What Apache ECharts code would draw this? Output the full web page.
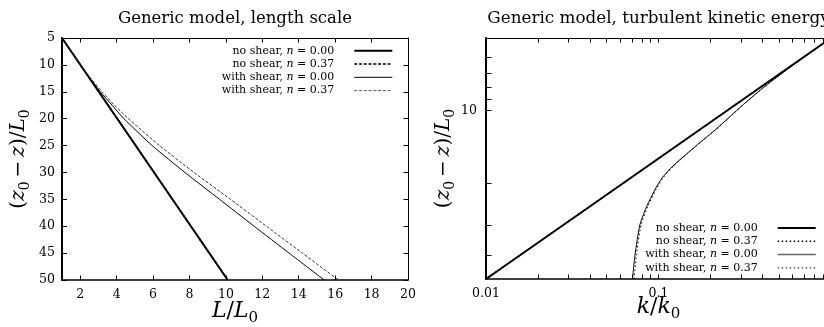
<!DOCTYPE html>
<html><head><meta charset="utf-8">
<script src="https://cdn.jsdelivr.net/npm/echarts@6/dist/echarts.min.js"></script>
<style>html,body{margin:0;padding:0;background:#fff}#c{width:824px;height:327px}</style>
</head><body><div id="c"></div>
<script>
// ---------- data ----------
const legendNames = ['no shear, n = 0.00', 'no shear, n = 0.37', 'with shear, n = 0.00', 'with shear, n = 0.37'];
const titles = ['Generic model, length scale', 'Generic model, turbulent kinetic energy'];

// Left panel: L/L0 against (z0 - z)/L0
const lenNoShear0L = [1.0, 10.1];
const lenNoShear0Z = [5, 50];
const lenNoShear37L = [1.0, 10.1];
const lenNoShear37Z = [5, 50];
const lenShearZ = [5, 10, 12.5, 15, 17.5, 20, 25, 30, 35, 40, 45, 50];
const lenShear0L = [1.0, 2.0, 2.53, 3.1, 3.75, 4.4, 5.95, 7.75, 9.65, 11.55, 13.47, 15.4];
const lenShear37L = [1.0, 2.02, 2.58, 3.2, 3.88, 4.65, 6.35, 8.25, 10.25, 12.22, 14.2, 16.18];
const lenXLabels = [2, 4, 6, 8, 10, 12, 14, 16, 18, 20];
const lenXTicks = [2, 4, 6, 8, 10, 12, 14, 16, 18];

// Right panel: k/k0 against (z0 - z)/L0
const tkeNoShear0K = [0.01, 1.0];
const tkeNoShear0Z = [50, 5];
const tkeNoShear37K = [0.01, 1.0];
const tkeNoShear37Z = [50, 5];
const tkeShearZ = [50, 39.7, 29.7, 24.8, 21.3, 19.05, 16.97, 15.08, 13.57, 12.05, 10.78, 9.31, 7.93, 6.62, 5.0];
const tkeShear0K = [0.0707, 0.0731, 0.0781, 0.0858, 0.0954, 0.1048, 0.1214, 0.1463, 0.174, 0.2127, 0.2529, 0.3172, 0.4145, 0.5783, 1.0];
const tkeShear37K = [0.0722, 0.0745, 0.0793, 0.0870, 0.0966, 0.1060, 0.1225, 0.1472, 0.1748, 0.2133, 0.2533, 0.3174, 0.4146, 0.5783, 1.0];
const tkeXLabels = [0.01, 0.1];
const tkeXTicks = [0.02, 0.03, 0.04, 0.05, 0.06, 0.07, 0.08, 0.09, 0.1, 0.2, 0.3, 0.4, 0.5, 0.6, 0.7, 0.8, 0.9];
const tkeYLabels = [10];
const tkeYTicks = [6, 7, 8, 9, 10, 20, 30, 40];

// ---------- helpers ----------
const SERIF = 'DejaVu Serif';
const pairs = (xs, ys) => xs.map((x, i) => [x, ys[i]]);
const mathRich = (size) => ({
  t: {fontFamily: SERIF, fontSize: size, color: '#000', lineHeight: Math.round(size * 1.3)},
  i: {fontFamily: SERIF, fontStyle: 'italic', fontSize: size, color: '#000', lineHeight: Math.round(size * 1.3)},
  s: {fontFamily: SERIF, fontSize: Math.round(size * 0.68), color: '#000', lineHeight: Math.round(size * 0.68), verticalAlign: 'bottom'}
});
const zName = '{t|(}{i|z}{s|0}{t|\u2009\u2212\u2009}{i|z}{t|)/}{i|L}{s|0}';
const lineAx = (w) => ({show: true, lineStyle: {color: '#000', width: w}});
const noSplit = {show: false};

const legendFmt = (name) => name.trim().replace('n =', '{i|n} =');
const legendText = {
  fontFamily: SERIF, fontSize: 11, color: '#000', lineHeight: 12, padding: [0, 15, 0, 0],
  rich: {i: {fontFamily: SERIF, fontStyle: 'italic', fontSize: 11, color: '#000', lineHeight: 12}}
};
const rightNames = legendNames.map(n => n + '\u00a0');

function lineSeries(name, data, xi, yi, width, dash, color) {
  return {
    type: 'line', name, data, xAxisIndex: xi, yAxisIndex: yi,
    symbol: 'none', smooth: 0.2, animation: false,
    lineStyle: {color: color || '#000', width, type: dash || 'solid'},
    itemStyle: {color: 'rgba(0,0,0,0)'},
    emphasis: {disabled: true}
  };
}

const tickFmt = v => String(+(+v).toPrecision(3));
const tickLbl = {fontFamily: SERIF, fontSize: 12.5, color: '#000'};
const tickLine = {color: '#000', width: 1};

const option = {
  animation: false,
  backgroundColor: '#fff',
  title: [
    {text: titles[0], left: 235, top: 10, textAlign: 'center', padding: 0,
     textStyle: {fontFamily: SERIF, fontSize: 16.5, fontWeight: 'normal', color: '#000'}},
    {text: titles[1], left: 658.5, top: 10, textAlign: 'center', padding: 0,
     textStyle: {fontFamily: SERIF, fontSize: 16.8, fontWeight: 'normal', color: '#000'}}
  ],
  grid: [
    {left: 62, top: 38, width: 346, height: 242, containLabel: false, outerBoundsMode: 'none'},
    {left: 486, top: 38, width: 345, height: 241, containLabel: false, outerBoundsMode: 'none'}
  ],
  legend: [
    {orient: 'vertical', align: 'right', right: 430.7, top: 44.7, padding: 0,
     itemWidth: 38, itemHeight: 12, itemGap: 1.3, selectedMode: false,
     itemStyle: {opacity: 0}, formatter: legendFmt, textStyle: legendText,
     data: [
       {name: legendNames[0], lineStyle: {width: 2}},
       {name: legendNames[1], lineStyle: {width: 1.5}},
       {name: legendNames[2], lineStyle: {width: 1}},
       {name: legendNames[3], lineStyle: {width: 1, color: '#555'}}
     ]},
    {orient: 'vertical', align: 'right', right: 7.3, top: 222, padding: 0,
     itemWidth: 38, itemHeight: 12, itemGap: 1.3, selectedMode: false,
     itemStyle: {opacity: 0}, formatter: legendFmt, textStyle: legendText,
     data: [
       {name: rightNames[0], lineStyle: {width: 2}},
       {name: rightNames[1], lineStyle: {width: 1.5}},
       {name: rightNames[2], lineStyle: {width: 1.5, color: '#666'}},
       {name: rightNames[3], lineStyle: {width: 1}}
     ]}
  ],
  xAxis: [
    {gridIndex: 0, type: 'value', min: 1, max: 20, position: 'bottom',
     axisLine: lineAx(1.5), splitLine: noSplit,
     axisTick: {show: true, inside: true, length: 4.5, customValues: lenXTicks, lineStyle: tickLine},
     axisLabel: Object.assign({show: true, customValues: lenXLabels, margin: 8}, tickLbl),
     name: '{i|L}{t|/}{i|L}{s|0}', nameLocation: 'middle', nameGap: 17, nameMoveOverlap: false,
     nameTextStyle: {rich: mathRich(22)}},
    {gridIndex: 0, type: 'value', min: 1, max: 20, position: 'top',
     axisLine: lineAx(1), splitLine: noSplit, axisLabel: {show: false},
     axisTick: {show: true, inside: true, length: 4.5, customValues: lenXTicks, lineStyle: tickLine}},
    {gridIndex: 1, type: 'log', logBase: 10, min: 0.01, max: 1, position: 'bottom',
     axisLine: lineAx(1.5), splitLine: noSplit, minorTick: {show: false},
     axisTick: {show: true, inside: true, length: 4.5, customValues: tkeXTicks, lineStyle: tickLine},
     axisLabel: Object.assign({show: true, customValues: tkeXLabels, formatter: tickFmt, margin: 8}, tickLbl),
     name: '{i|k}{t|/}{i|k}{s|0}', nameLocation: 'middle', nameGap: 14, nameMoveOverlap: false,
     nameTextStyle: {rich: mathRich(22)}},
    {gridIndex: 1, type: 'log', logBase: 10, min: 0.01, max: 1, position: 'top',
     axisLine: lineAx(1), splitLine: noSplit, axisLabel: {show: false}, minorTick: {show: false},
     axisTick: {show: true, inside: true, length: 4.5, customValues: tkeXTicks, lineStyle: tickLine}}
  ],
  yAxis: [
    {gridIndex: 0, type: 'value', inverse: true, min: 5, max: 50, interval: 5, position: 'left',
     axisLine: lineAx(2), splitLine: noSplit,
     axisTick: {show: true, inside: true, length: 5, lineStyle: tickLine},
     axisLabel: Object.assign({show: true, margin: 7}, tickLbl),
     name: zName, nameLocation: 'middle', nameGap: 30,
     nameTextStyle: {rich: mathRich(20)}},
    {gridIndex: 0, type: 'value', inverse: true, min: 5, max: 50, interval: 5, position: 'right',
     axisLine: lineAx(1), splitLine: noSplit, axisLabel: {show: false},
     axisTick: {show: true, inside: true, length: 4.5, lineStyle: tickLine}},
    {gridIndex: 1, type: 'log', logBase: 10, inverse: true, min: 5, max: 50, position: 'left',
     axisLine: lineAx(2), splitLine: noSplit, minorTick: {show: false},
     axisTick: {show: true, inside: true, length: 5.5, customValues: tkeYTicks, lineStyle: tickLine},
     axisLabel: Object.assign({show: true, customValues: tkeYLabels, formatter: tickFmt, margin: 9}, tickLbl),
     name: zName, nameLocation: 'middle', nameGap: 19,
     nameTextStyle: {rich: mathRich(20)}}
  ],
  series: [
    lineSeries(legendNames[1], pairs(lenNoShear37L, lenNoShear37Z), 0, 0, 1.5, [3, 1.75]),
    lineSeries(legendNames[0], pairs(lenNoShear0L, lenNoShear0Z), 0, 0, 2, 'solid'),
    lineSeries(legendNames[2], pairs(lenShear0L, lenShearZ), 0, 0, 1, 'solid'),
    lineSeries(legendNames[3], pairs(lenShear37L, lenShearZ), 0, 0, 1, [3, 1.75], '#333'),
    lineSeries(rightNames[1], pairs(tkeNoShear37K, tkeNoShear37Z), 2, 2, 1.5, [1.5, 2.5]),
    lineSeries(rightNames[0], pairs(tkeNoShear0K, tkeNoShear0Z), 2, 2, 2, 'solid'),
    lineSeries(rightNames[2], pairs(tkeShear0K, tkeShearZ), 2, 2, 1, 'solid'),
    lineSeries(rightNames[3], pairs(tkeShear37K, tkeShearZ), 2, 2, 1, [1.5, 2.5])
  ]
};

const chart = echarts.init(document.getElementById('c'), null, {renderer: 'canvas'});
chart.setOption(option);
</script>
</body></html>
